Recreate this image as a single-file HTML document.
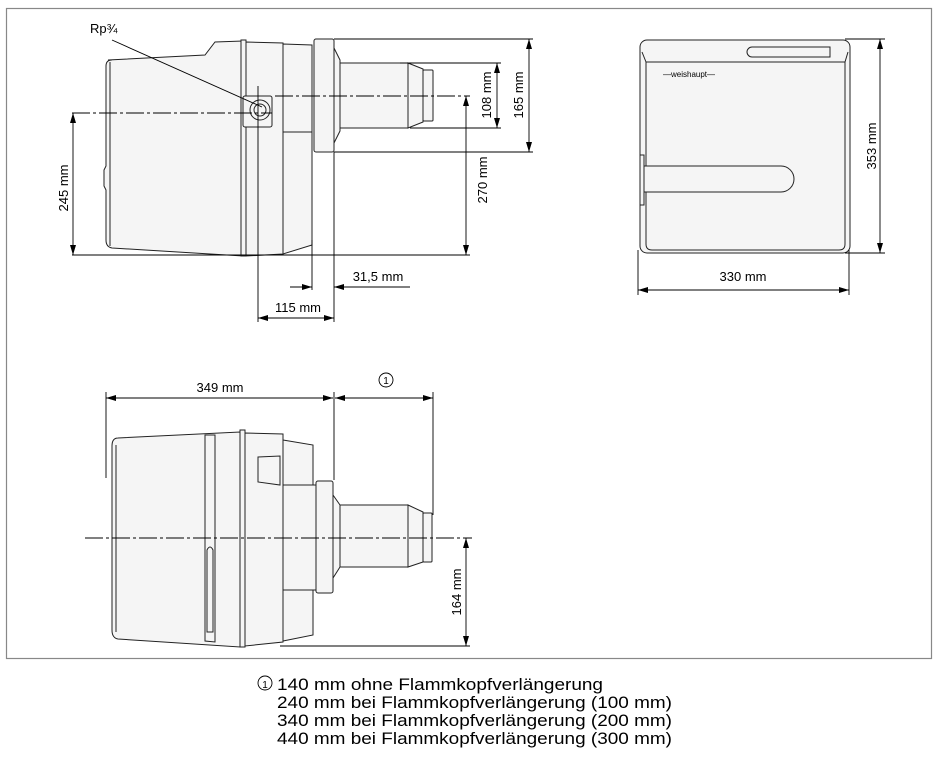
<!DOCTYPE html>
<html><head><meta charset="utf-8"><style>
html,body{margin:0;padding:0;background:#fff;}
svg{display:block;font-family:"Liberation Sans",sans-serif;}
</style></head><body>
<svg width="939" height="758" viewBox="0 0 939 758" xmlns="http://www.w3.org/2000/svg">
<defs>
<marker id="a" viewBox="0 0 10 6" refX="10" refY="3" markerWidth="10" markerHeight="6" orient="auto-start-reverse" markerUnits="userSpaceOnUse"><path d="M0,0 L10,3 L0,6 z" fill="#000"/></marker>
</defs>
<rect x="6.5" y="8.5" width="925" height="650" fill="none" stroke="#888" stroke-width="1.2"/>

<g stroke="#222" stroke-width="1" fill="#f5f5f5">
<!-- SIDE VIEW -->
<path d="M108,60 L205,55 L215,42 L243,41 L243,256 L112,248 Q106,247 106,240 L106,190 L104,186 L104,170 L106,166 L106,66 Q106,60 112,60 z"/>
<line x1="110" y1="62" x2="110" y2="246" fill="none"/>
<rect x="241" y="40" width="5" height="216"/>
<path d="M246,42 L283,43 L283,254 L246,256 z"/>
<path d="M283,44 L312,45 L312,132 L283,132 z"/>
<path d="M283,132 L312,132 L312,245 L283,254 z"/>
<rect x="314" y="39" width="20" height="113" rx="2"/>
<path d="M334,48 L340,60 L340,131 L334,143 z"/>
<rect x="340" y="63" width="68" height="65"/>
<path d="M408,63 L423,69 L423,122 L408,128 z"/>
<rect x="423" y="70" width="10" height="51" rx="1"/>
<rect x="243" y="96" width="29" height="31" rx="2"/>
<circle cx="260" cy="110" r="10" fill="none"/>
<circle cx="260" cy="110" r="6" fill="none"/>

<!-- FRONT VIEW -->
<rect x="640" y="40" width="210" height="213" rx="7"/>
<path d="M646,62 L845,62 L845,244 Q845,250 839,250 L652,250 Q646,250 646,244 z"/>
<path d="M642,52 L646,62 M848,52 L845,62" fill="none"/>
<path d="M752,47 L830,47 L830,57 L752,57 A5,5 0 0 1 752,47 z"/>
<path d="M643,166 L781,166 A13,13 0 0 1 781,192 L643,192 z"/>
<rect x="640" y="155" width="4" height="50"/>

<!-- BOTTOM VIEW -->
<path d="M118,438 L240,432 L240,647 L118,639 Q112,638 112,630 L112,446 Q112,438 118,438 z"/>
<line x1="116" y1="445" x2="116" y2="632" fill="none"/>
<path d="M205,435 L215,435 L215,642 L205,641 z"/>
<path d="M207,550 Q210,544 213,550 L213,632 L207,632 z"/>
<rect x="240" y="430" width="5" height="217"/>
<path d="M245,433 L283,434 L283,642 L245,646 z"/>
<path d="M283,440 L313,445 L313,485 L283,485 z"/>
<path d="M283,485 L316,485 L316,590 L283,590 z"/>
<path d="M283,590 L313,590 L313,635 L283,641 z"/>
<path d="M258,457 L280,456 L280,485 L258,482 z"/>
<rect x="316" y="481" width="17" height="112" rx="2"/>
<path d="M333,495 L340,505 L340,567 L333,578 z"/>
<rect x="340" y="505" width="68" height="62"/>
<path d="M408,505 L423,512 L423,562 L408,567 z"/>
<rect x="423" y="513" width="9" height="49" rx="1"/>
</g>

<g fill="none" stroke="#000" stroke-width="0.9">
<line x1="72" y1="113" x2="272" y2="113" stroke-dasharray="18,3,3,3"/>
<line x1="275" y1="96" x2="470" y2="96" stroke-dasharray="18,3,3,3"/>
<line x1="85" y1="538" x2="472" y2="538" stroke-dasharray="18,3,3,3"/>
<line x1="112" y1="40" x2="262" y2="107"/>
<line x1="72" y1="255" x2="470" y2="255"/>
<line x1="334" y1="39" x2="533" y2="39"/>
<line x1="334" y1="152" x2="533" y2="152"/>
<line x1="400" y1="63" x2="501" y2="63"/>
<line x1="410" y1="128" x2="501" y2="128"/>
<line x1="258" y1="86" x2="258" y2="322"/>
<line x1="312" y1="240" x2="312" y2="290"/>
<line x1="334" y1="152" x2="334" y2="322"/>
<line x1="73" y1="113" x2="73" y2="255" marker-start="url(#a)" marker-end="url(#a)"/>
<line x1="466" y1="96" x2="466" y2="255" marker-start="url(#a)" marker-end="url(#a)"/>
<line x1="497" y1="63" x2="497" y2="128" marker-start="url(#a)" marker-end="url(#a)"/>
<line x1="529" y1="39" x2="529" y2="152" marker-start="url(#a)" marker-end="url(#a)"/>
<line x1="290" y1="287" x2="312" y2="287" marker-end="url(#a)"/>
<line x1="410" y1="287" x2="334" y2="287" marker-end="url(#a)"/>
<line x1="258" y1="318" x2="334" y2="318" marker-start="url(#a)" marker-end="url(#a)"/>
<line x1="845" y1="39" x2="885" y2="39"/>
<line x1="845" y1="253" x2="885" y2="253"/>
<line x1="880" y1="39" x2="880" y2="253" marker-start="url(#a)" marker-end="url(#a)"/>
<line x1="638" y1="250" x2="638" y2="295"/>
<line x1="849" y1="250" x2="849" y2="295"/>
<line x1="638" y1="290" x2="849" y2="290" marker-start="url(#a)" marker-end="url(#a)"/>
<line x1="106" y1="392" x2="106" y2="478"/>
<line x1="334" y1="392" x2="334" y2="480"/>
<line x1="433" y1="392" x2="433" y2="515"/>
<line x1="106" y1="398" x2="333" y2="398" marker-start="url(#a)" marker-end="url(#a)"/>
<line x1="335" y1="398" x2="433" y2="398" marker-start="url(#a)" marker-end="url(#a)"/>
<line x1="280" y1="646" x2="470" y2="646"/>
<line x1="466" y1="538" x2="466" y2="646" marker-start="url(#a)" marker-end="url(#a)"/>
<circle cx="386" cy="380" r="7"/>
<circle cx="265" cy="683" r="7"/>
</g>

<g font-size="13" fill="#000">
<text x="90" y="33">Rp¾</text>
<text x="378" y="281" text-anchor="middle">31,5 mm</text>
<text x="298" y="312" text-anchor="middle">115 mm</text>
<text transform="translate(68,188) rotate(-90)" text-anchor="middle">245 mm</text>
<text transform="translate(487,180) rotate(-90)" text-anchor="middle">270 mm</text>
<text transform="translate(491,95) rotate(-90)" text-anchor="middle">108 mm</text>
<text transform="translate(523,95) rotate(-90)" text-anchor="middle">165 mm</text>
<text transform="translate(876,146) rotate(-90)" text-anchor="middle">353 mm</text>
<text x="743" y="281" text-anchor="middle">330 mm</text>
<text x="220" y="392" text-anchor="middle">349 mm</text>
<text transform="translate(461,592) rotate(-90)" text-anchor="middle">164 mm</text>
<text x="386" y="384" font-size="10" text-anchor="middle">1</text>
<text x="663" y="77" font-size="8">—weishaupt—</text>
</g>
<g font-size="16.5" fill="#000">
<text x="265" y="688" font-size="10" text-anchor="middle">1</text>
<text x="277" y="690" textLength="326" lengthAdjust="spacingAndGlyphs">140 mm ohne Flammkopfverlängerung</text>
<text x="277" y="708" textLength="395" lengthAdjust="spacingAndGlyphs">240 mm bei Flammkopfverlängerung (100 mm)</text>
<text x="277" y="726" textLength="395" lengthAdjust="spacingAndGlyphs">340 mm bei Flammkopfverlängerung (200 mm)</text>
<text x="277" y="744" textLength="395" lengthAdjust="spacingAndGlyphs">440 mm bei Flammkopfverlängerung (300 mm)</text>
</g>
</svg>
</body></html>
